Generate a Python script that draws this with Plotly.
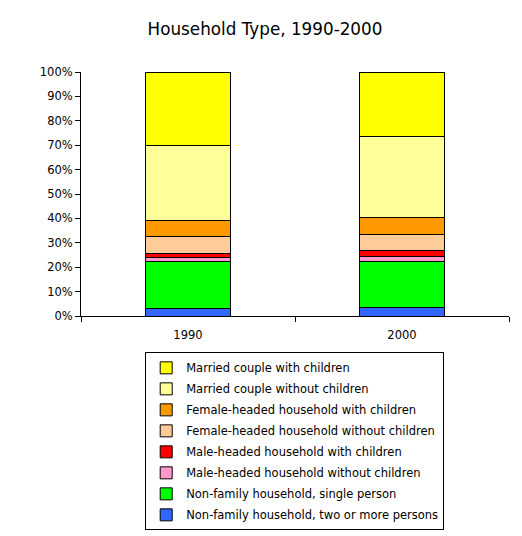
import plotly.graph_objects as go

years = ["1990", "2000"]

# bottom to top stacking order
series_names = [
    "Non-family household, two or more persons",
    "Non-family household, single person",
    "Male-headed household without children",
    "Male-headed household with children",
    "Female-headed household without children",
    "Female-headed household with children",
    "Married couple without children",
    "Married couple with children",
]
values_1990 = [3.0, 19.3, 1.8, 1.5, 7.0, 6.6, 30.8, 30.0]
values_2000 = [3.4, 18.9, 1.9, 2.5, 6.7, 7.1, 33.2, 26.3]
colors = ["#3366FF", "#00FF00", "#FF99CC", "#FF0000",
          "#FFCC99", "#FF9900", "#FFFF99", "#FFFF00"]

FONT = "DejaVu Sans"

fig = go.Figure()
for i, name in enumerate(series_names):
    fig.add_trace(go.Bar(
        x=years,
        y=[values_1990[i], values_2000[i]],
        name=name,
        legendgroup=f"g{i}",
        legendrank=1000 - i,  # top segment listed first
        marker=dict(color=colors[i], line=dict(color="black", width=1)),
        width=0.4,
    ))

# page body has an 8px margin, so the figure is 8px smaller than the window
fig.update_layout(
    barmode="stack",
    width=514, height=528,
    margin=dict(l=73, r=13, t=64, b=220, autoexpand=False),
    paper_bgcolor="white",
    plot_bgcolor="white",
    font=dict(family=FONT, size=11.5, color="black"),
    title=dict(text="Household Type, 1990-2000", x=0.5, xanchor="center",
               y=0.96, yanchor="middle",
               font=dict(family=FONT, size=16.8, color="black")),
    xaxis=dict(
        type="category", showline=True, linecolor="black", linewidth=1,
        ticks="outside", tickson="boundaries", ticklen=5, tickcolor="black",
        showgrid=False, ticklabelstandoff=8,
    ),
    yaxis=dict(
        range=[0, 100], dtick=10, ticksuffix="%",
        showline=True, linecolor="black", linewidth=1,
        ticks="outside", ticklen=5, tickcolor="black",
        showgrid=False, zeroline=False,
    ),
    legend=dict(
        traceorder="grouped", tracegroupgap=2,
        x=0.15, xanchor="left", y=-0.149, yanchor="top",
        itemwidth=30,
        bordercolor="black", borderwidth=1, bgcolor="white",
        font=dict(family=FONT, size=11.5),
    ),
)

fig.write_html("out.html")
